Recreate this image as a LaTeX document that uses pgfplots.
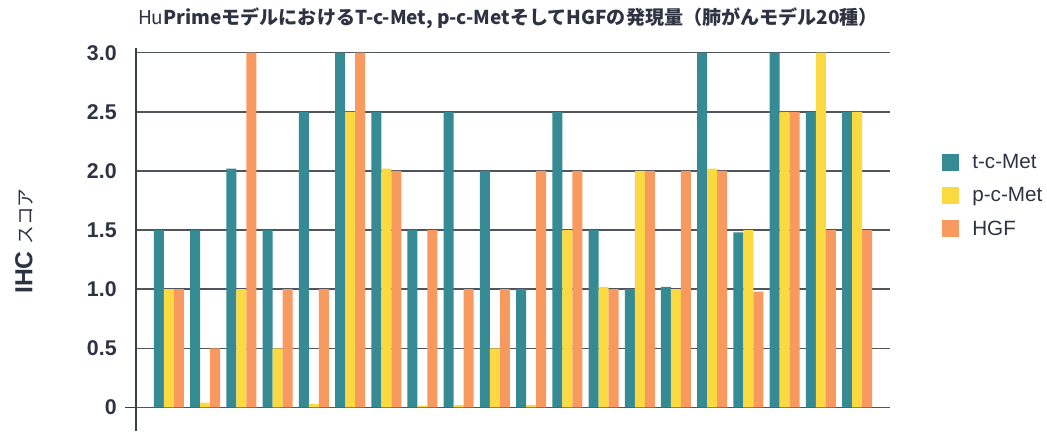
\documentclass[border=0pt]{standalone}
\usepackage{pgfplots}
\pgfplotsset{compat=1.18}
\usepackage{fontspec}
\setmainfont{Liberation Sans}
\newfontfamily\cjk{Noto Sans CJK JP}
\definecolor{cteal}{HTML}{368A93}
\definecolor{cyellow}{HTML}{FADA40}
\definecolor{corange}{HTML}{F89A60}
\definecolor{gridc}{HTML}{50545C}
\definecolor{axisc}{HTML}{3B3F47}
\definecolor{labelc}{HTML}{2D3340}
\begin{document}
\begin{tikzpicture}
\begin{axis}[
  scale only axis,
  width=565.5pt, height=287.25pt,
  xmin=0.09, xmax=20.91,
  ymin=-0.2, ymax=3.04,
  ybar, bar width=7.5pt,
  axis x line=none,
  axis y line*=left,
  axis line style={-, draw=axisc, line width=1.1pt},
  xtick=\empty,
  ytick={0,0.5,1,1.5,2,2.5,3},
  yticklabels={0,0.5,1.0,1.5,2.0,2.5,3.0},
  yticklabel style={font=\fontsize{16}{18}\selectfont\bfseries, text=labelc, xshift=-11pt},
  major tick length=0pt,
  ymajorgrids,
  grid style={draw=gridc, line width=1.1pt},
  extra y ticks={0},
  extra y tick labels={},
  extra y tick style={grid=none, tick align=outside, major tick length=8.25pt, tick style={draw=axisc, line width=1.1pt}},
  clip=false,
  legend style={draw=none, fill=none, at={(rel axis cs:1.069,0.7232)}, anchor=north west,
    font=\fontsize{15.5}{18}\selectfont, text=labelc, inner sep=0pt, row sep=12pt,
    nodes={inner sep=0pt, anchor=west}},
  legend cell align=left,
]
\addplot[draw=none, fill=cteal, bar shift=-7.5pt,
  legend image code/.code={\fill[cteal] (0pt,-6.375pt) rectangle (12.75pt,6.375pt);}]
  coordinates {(1,1.5) (2,1.5) (3,2.02) (4,1.5) (5,2.5) (6,3.0) (7,2.5) (8,1.5) (9,2.5) (10,2.0)
  (11,1.0) (12,2.5) (13,1.5) (14,1.0) (15,1.02) (16,3.0) (17,1.48) (18,3.0) (19,2.5) (20,2.5)};
\addlegendentry{\hspace{9.75pt}t-c-Met}
\addplot[draw=none, fill=cyellow, bar shift=0pt,
  legend image code/.code={\fill[cyellow] (0pt,-6.375pt) rectangle (12.75pt,6.375pt);}]
  coordinates {(1,1.0) (2,0.04) (3,1.0) (4,0.5) (5,0.03) (6,2.5) (7,2.02) (8,0.015) (9,0.02) (10,0.5)
  (11,0.02) (12,1.5) (13,1.02) (14,2.0) (15,1.0) (16,2.02) (17,1.5) (18,2.5) (19,3.0) (20,2.5)};
\addlegendentry{\hspace{9.75pt}p-c-Met}
\addplot[draw=none, fill=corange, bar shift=7.5pt,
  legend image code/.code={\fill[corange] (0pt,-6.375pt) rectangle (12.75pt,6.375pt);}]
  coordinates {(1,1.0) (2,0.5) (3,3.0) (4,1.0) (5,1.0) (6,3.0) (7,2.0) (8,1.5) (9,1.0) (10,1.0)
  (11,2.0) (12,2.0) (13,1.0) (14,2.0) (15,2.0) (16,2.0) (17,0.98) (18,2.5) (19,1.5) (20,1.5)};
\addlegendentry{\hspace{9.75pt}HGF}
\node[text=labelc, font=\fontsize{14.3}{16}\selectfont] at (rel axis cs:0.4934,1.078)
  {\cjk Hu\bfseries PrimeモデルにおけるT-c-Met, p-c-MetそしてHGFの発現量（肺がんモデル20種）};
\node[text=labelc, rotate=90] at (rel axis cs:-0.1485,0.496)
  {\fontsize{18.5}{20}\selectfont\bfseries IHC \cjk\mdseries\fontsize{14}{16}\selectfont スコア};
\coordinate (bl) at (rel axis cs:-0.18037,0);
\coordinate (tr) at (rel axis cs:1.20822,1.12533);
\end{axis}
\pgfresetboundingbox
\path[use as bounding box] (bl) rectangle (tr);
\end{tikzpicture}
\end{document}
